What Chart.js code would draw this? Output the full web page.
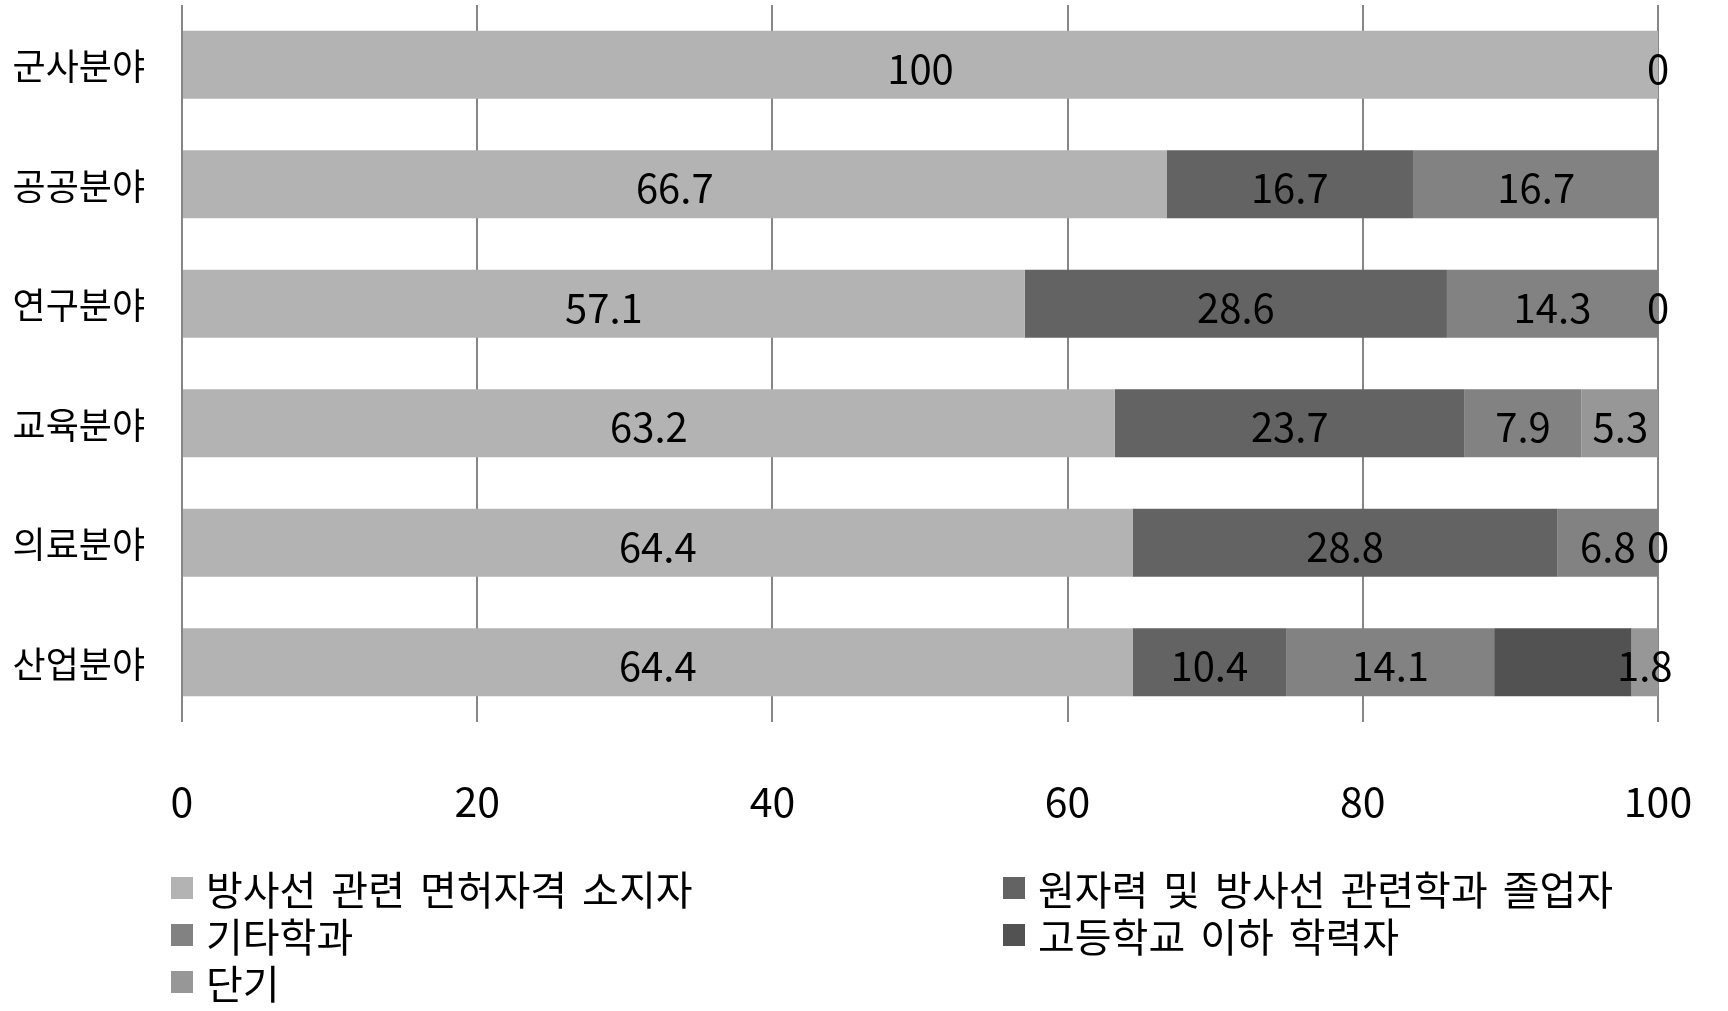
<!DOCTYPE html>
<html><head><meta charset="utf-8">
<script src="https://cdn.jsdelivr.net/npm/chart.js@4.4.1/dist/chart.umd.min.js"></script>
<style>
html,body{margin:0;padding:0;background:#fff;}
#wrap{position:relative;width:1728px;height:1011px;overflow:hidden;}
#c{position:absolute;left:0;top:0;}
.lg{position:absolute;height:47px;display:flex;align-items:center;font-family:"Noto Sans CJK KR","Noto Sans",sans-serif;font-size:40px;color:#000;white-space:nowrap;word-spacing:6px;}
.lg i{display:inline-block;width:22px;height:22px;margin-right:13px;}
</style></head>
<body><div id="wrap"><canvas id="c" width="1728" height="1011"></canvas><div id="legend"></div></div>
<script>
const categories = ['군사분야','공공분야','연구분야','교육분야','의료분야','산업분야'];
const seriesNames = ['방사선 관련 면허자격 소지자','원자력 및 방사선 관련학과 졸업자','기타학과','고등학교 이하 학력자','단기'];
const licensed    = [100, 66.7, 57.1, 63.2, 64.4, 64.4];
const graduates   = [null, 16.7, 28.6, 23.7, 28.8, 10.4];
const otherMajors = [null, 16.7, 14.3, 7.9, 6.8, 14.1];
const highSchool  = [null, null, 0, null, 0, 9.3];
const shortTerm   = [0, null, null, 5.3, null, 1.8];
const highSchoolLabelShown = [true, true, true, true, true, false];
const xTicks = [0, 20, 40, 60, 80, 100];
const colors = ['#b3b3b3', '#636363', '#828282', '#525252', '#979797'];

const FONT = '"Noto Sans CJK KR","Noto Sans",sans-serif';
const seriesData = [licensed, graduates, otherMajors, highSchool, shortTerm];
const labelMasks = [null, null, null, highSchoolLabelShown, null];

const valueLabels = {
  id: 'valueLabels',
  afterDatasetsDraw(chart) {
    const ctx = chart.ctx;
    ctx.save();
    ctx.font = '40px ' + FONT;
    ctx.fillStyle = '#000';
    ctx.textAlign = 'center';
    ctx.textBaseline = 'middle';
    chart.data.datasets.forEach((ds, di) => {
      const meta = chart.getDatasetMeta(di);
      meta.data.forEach((el, i) => {
        const v = ds.data[i];
        if (v === null || v === undefined) return;
        const mask = labelMasks[di];
        if (mask && !mask[i]) return;
        const x = (el.x + el.base) / 2;
        ctx.fillText(String(v), x, el.y + 4);
      });
    });
    ctx.restore();
  }
};

new Chart(document.getElementById('c'), {
  type: 'bar',
  data: {
    labels: categories,
    datasets: seriesNames.map((n, i) => ({
      label: n,
      data: seriesData[i],
      backgroundColor: colors[i],
      borderWidth: 0,
      barPercentage: 0.57,
      categoryPercentage: 1
    }))
  },
  options: {
    indexAxis: 'y',
    responsive: false,
    animation: false,
    layout: { padding: { left: 0, right: 70, top: 5, bottom: 0 } },
    plugins: { legend: { display: false }, tooltip: { enabled: false } },
    scales: {
      x: {
        stacked: true, min: 0, max: 100,
        afterBuildTicks(s) { s.ticks = xTicks.map(v => ({ value: v })); },
        ticks: { font: { family: FONT, size: 41 }, color: '#000', padding: 55 },
        grid: { color: '#878787', lineWidth: 2, drawTicks: false },
        border: { display: false },
        afterFit(s) { s.height = 289; s.paddingLeft = 0; s.paddingRight = 0; }
      },
      y: {
        stacked: true,
        ticks: { font: { family: FONT, size: 36 }, color: '#000', padding: 37, labelOffset: 2 },
        grid: { display: false, drawTicks: false },
        border: { display: false },
        afterFit(s) { s.width = 182; s.paddingTop = 0; s.paddingBottom = 0; }
      }
    }
  },
  plugins: [valueLabels]
});

const legendPos = [[171, 864], [1003, 864], [171, 911], [1003, 911], [171, 958]];
const lg = document.getElementById('legend');
seriesNames.forEach((n, i) => {
  const d = document.createElement('div');
  d.className = 'lg';
  d.style.left = legendPos[i][0] + 'px';
  d.style.top = legendPos[i][1] + 'px';
  d.innerHTML = '<i style="background:' + colors[i] + '"></i><span></span>';
  d.querySelector('span').textContent = n;
  lg.appendChild(d);
});
</script></body></html>
